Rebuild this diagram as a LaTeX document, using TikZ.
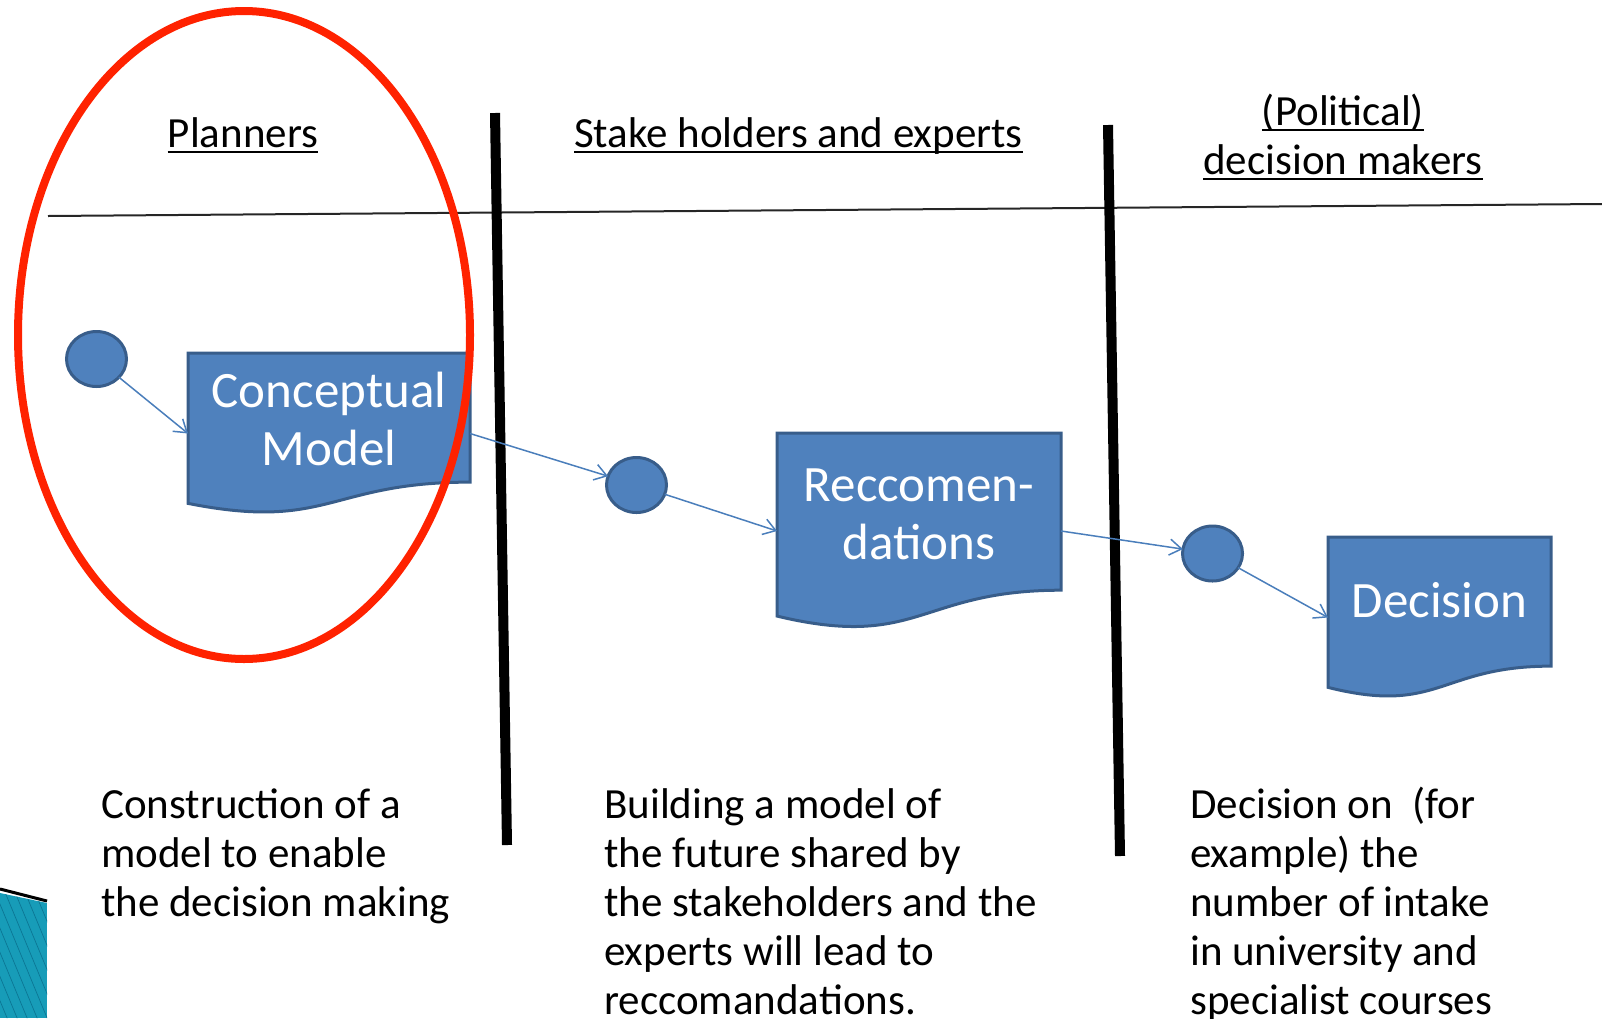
\documentclass[tikz,border=0pt]{standalone}
\usepackage{fontspec}
\setmainfont{Carlito}
\usetikzlibrary{arrows.meta,calc,backgrounds,shapes.geometric}
\definecolor{boxfill}{RGB}{79,129,189}
\definecolor{boxline}{RGB}{56,93,138}
\definecolor{arrowblue}{RGB}{74,126,187}
\definecolor{ovalred}{RGB}{255,34,0}
\definecolor{tealdeco}{RGB}{23,156,184}
\definecolor{tealstripe}{RGB}{12,118,148}
\tikzset{
  docbox/.style={rectangle, draw=none, inner sep=0pt, outer sep=0pt},
  docpath/.style={fill=boxfill, draw=boxline, line width=3pt},
  boxlabel/.style={text=white, font=\fontsize{51}{58}\selectfont, align=center, inner sep=0pt},
  dot/.style={ellipse, draw=boxline, fill=boxfill, line width=3pt, minimum width=60pt, minimum height=55pt, inner sep=0pt, outer sep=0pt},
  conn/.style={draw=arrowblue, line width=1.5pt, -{Straight Barb[length=12pt,width=16pt]}},
  header/.style={font=\fontsize{43}{49}\selectfont, inner sep=0pt, anchor=base},
  uline/.style={line width=2.8pt},
  coltext/.style={font=\fontsize{43}{49}\selectfont, align=left, inner sep=0pt, anchor=base west},
  divider/.style={line width=10pt},
}
\newcommand\docshape[1]{%
  \begin{scope}[on background layer]
    \filldraw[docpath] (#1.north west) -- (#1.north east)
      -- ($(#1.north east)!0.802!(#1.south east)$)
      .. controls ($(#1.north)!0.802!(#1.south)$) and ($(#1.north)!1.1075!(#1.south)$)
      .. ($(#1.north west)!0.934!(#1.south west)$) -- cycle;
  \end{scope}}
\begin{document}
\begin{tikzpicture}[x=1pt,y=-1pt]
\useasboundingbox (0,0) rectangle (1602,1018);

% bottom-left decoration
\begin{scope}
  \clip (0,893) -- (47,903) -- (47,1018) -- (0,1018) -- cycle;
  \fill[tealdeco] (0,880) rectangle (47,1018);
  \foreach \k in {0,...,16} {
    \draw[tealstripe, line width=0.7pt] (-70+\k*10,880) -- ++(60,145);
  }
\end{scope}
\draw[line width=3pt] (0,889) -- (47,901);

% dividers
\draw[line width=2pt, black!85] (48,216) -- (1602,204);
\draw[divider] (495,113) -- (507,845);
\draw[divider] (1108,125) -- (1120,856);

% headers
\node[header] (hplan) at (243,147) {Planners};
\node[header] (hstake) at (798.5,147) {Stake holders and experts};
\node[header] (hpol) at (1343,125) {(Political)\ };
\node[header] (hdec) at (1343,174) {decision makers};
\foreach \n in {hplan,hstake,hpol,hdec} {
  \draw[uline] ([yshift=-5pt]\n.base west) -- ([yshift=-5pt]\n.base east);
}

% document boxes
\node[docbox, minimum width=282pt, minimum height=161pt,
  label={[boxlabel, yshift=14.5pt]center:{Conceptual\\Model}}] (cm) at (329,433.5) {};
\node[docbox, minimum width=284pt, minimum height=196pt,
  label={[boxlabel, yshift=17pt]center:{Reccomen-\\dations}}] (rec) at (919,531) {};
\node[docbox, minimum width=223pt, minimum height=161pt,
  label={[boxlabel, yshift=17pt]center:{Decision}}] (dec) at (1439.5,617.5) {};
\docshape{cm}
\docshape{rec}
\docshape{dec}

% circles
\node[dot] (c1) at (96.5,359) {};
\node[dot] (c2) at (636.5,485) {};
\node[dot] (c3) at (1212.5,553.5) {};

% connectors
\draw[conn] (c1) -- (cm.west);
\draw[conn] (cm.east) -- (c2);
\draw[conn] (c2) -- (rec.west);
\draw[conn] (rec.east) -- (c3);
\draw[conn] (c3) -- (dec.west);

% column texts (anchor = baseline of the last line)
\node[coltext] (t1) at (101,916) {Construction of a\\model to enable\\the decision making};
\node[coltext] (t2) at (604,1014) {Building a model of\\the future shared by\\the stakeholders and the\\experts will lead to\\reccomandations.};
\node[coltext] (t3) at (1190,1014) {Decision on\ \ (for\\example) the\\number of intake\\in university and\\specialist courses};

% red oval
\draw[ovalred, line width=8pt] (244,335) ellipse [x radius=226pt, y radius=324pt];
\end{tikzpicture}
\end{document}
